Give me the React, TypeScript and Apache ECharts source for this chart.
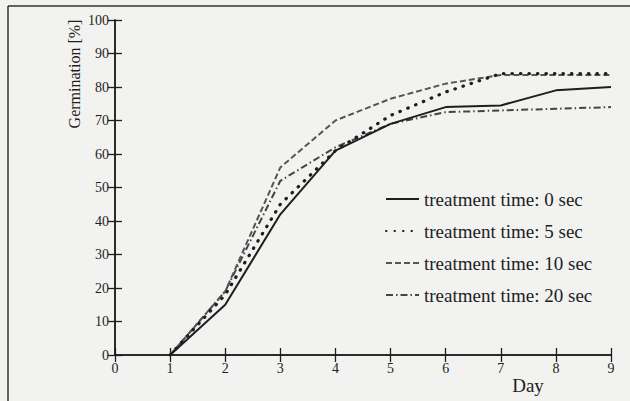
import React, { useEffect, useRef } from "react";
import * as echarts from "echarts";

const days = [1, 2, 3, 4, 5, 6, 7, 8, 9];
const sec0 = [0, 15, 42, 61, 69, 74, 74.5, 79, 80];
const sec5 = [0, 18, 45, 61, 71.5, 78.5, 84, 84, 84];
const sec10 = [0, 19, 56, 70, 76.5, 81, 83.6, 83.6, 83.6];
const sec20 = [0, 19, 52, 62, 69, 72.5, 73, 73.5, 74];
const seriesNames = [
  "treatment time: 0 sec",
  "treatment time: 5 sec",
  "treatment time: 10 sec",
  "treatment time: 20 sec",
];
const xTicks = [0, 1, 2, 3, 4, 5, 6, 7, 8, 9];
const yTicks = [0, 10, 20, 30, 40, 50, 60, 70, 80, 90, 100];

const FONT = "'Liberation Serif', 'DejaVu Serif', serif";
const INK = "#1e1e1e";

export default function App() {
  const ref = useRef<HTMLDivElement>(null);
  useEffect(() => {
    if (!ref.current) return;
    const chart = echarts.init(ref.current, null, { renderer: "svg" });
    const pairs = (vals: number[]) => days.map((d, i) => [d, vals[i]]);
    const styles = [
      { color: INK, width: 2, type: "solid" as any, cap: "butt" },
      { color: INK, width: 3.2, type: [0.5, 8] as any, cap: "round" },
      { color: "#555", width: 2, type: [6, 3] as any, cap: "butt" },
      { color: "#444", width: 2, type: [7, 3, 1.5, 3] as any, cap: "butt" },
    ];
    const allVals = [sec0, sec5, sec10, sec20];
    const axisLine = { show: true, lineStyle: { color: INK, width: 1.5 } };
    chart.setOption({
      animation: false,
      backgroundColor: "#f2f2f0",
      grid: { left: 115, top: 20, width: 496, height: 335, containLabel: false },
      xAxis: [
        {
          type: "value",
          min: 0,
          max: 9,
          interval: 1,
          position: "bottom",
          axisLine,
          axisTick: { show: true, inside: true, length: 7, lineStyle: { color: INK, width: 1.3 } },
          axisLabel: {
            margin: 6,
            fontFamily: FONT,
            fontSize: 14,
            color: INK,
            formatter: (v: number) => (xTicks.includes(v) ? String(v) : ""),
          },
          splitLine: { show: false },
        },
        {
          type: "value",
          min: 0,
          max: 9,
          interval: 1,
          position: "top",
          axisLine,
          axisTick: { show: true, inside: true, length: 7, lineStyle: { color: INK, width: 1.3 } },
          axisLabel: { show: false },
          splitLine: { show: false },
        },
      ],
      yAxis: [
        {
          type: "value",
          min: 0,
          max: 100,
          interval: 10,
          position: "left",
          axisLine,
          axisTick: { show: true, inside: true, length: 7, lineStyle: { color: INK, width: 1.3 } },
          axisLabel: {
            margin: 6,
            fontFamily: FONT,
            fontSize: 14,
            color: INK,
            formatter: (v: number) => (yTicks.includes(v) ? String(v) : ""),
          },
          splitLine: { show: false },
        },
        {
          type: "value",
          min: 0,
          max: 100,
          interval: 10,
          position: "right",
          axisLine,
          axisTick: { show: true, inside: true, length: 7, lineStyle: { color: INK, width: 1.3 } },
          axisLabel: { show: false },
          splitLine: { show: false },
        },
      ],
      legend: {
        orient: "vertical",
        left: 380,
        top: 184,
        itemWidth: 33,
        itemHeight: 14,
        itemGap: 12,
        itemStyle: { opacity: 0 },
        textStyle: { fontFamily: FONT, fontSize: 19, color: INK, lineHeight: 20 },
        data: seriesNames,
      },
      series: seriesNames.map((name, i) => ({
        name,
        type: "line",
        xAxisIndex: 0,
        yAxisIndex: 0,
        data: pairs(allVals[i]),
        showSymbol: false,
        symbol: "none",
        color: styles[i].color,
        lineStyle: {
          color: styles[i].color,
          width: styles[i].width,
          type: styles[i].type,
          cap: styles[i].cap,
        },
        z: 4 - i,
      })),
      graphic: [
        {
          type: "line",
          shape: { x1: 8, y1: 6, x2: 630, y2: 6 },
          style: { stroke: "#333", lineWidth: 1.5 },
        },
        {
          type: "line",
          shape: { x1: 8, y1: 6, x2: 8, y2: 401 },
          style: { stroke: "#333", lineWidth: 1.5 },
        },
        {
          type: "text",
          x: 74,
          y: 74,
          rotation: Math.PI / 2,
          style: {
            text: "Germination [%]",
            fontFamily: FONT,
            fontSize: 16,
            fill: INK,
            align: "center",
            verticalAlign: "middle",
          },
        },
        {
          type: "text",
          x: 528,
          y: 385,
          style: {
            text: "Day",
            fontFamily: FONT,
            fontSize: 19,
            fill: INK,
            align: "center",
            verticalAlign: "middle",
          },
        },
      ],
    });
    return () => chart.dispose();
  }, []);
  return (
    <div
      ref={ref}
      style={{ position: "absolute", left: 0, top: 0, width: 630, height: 401 }}
    />
  );
}
